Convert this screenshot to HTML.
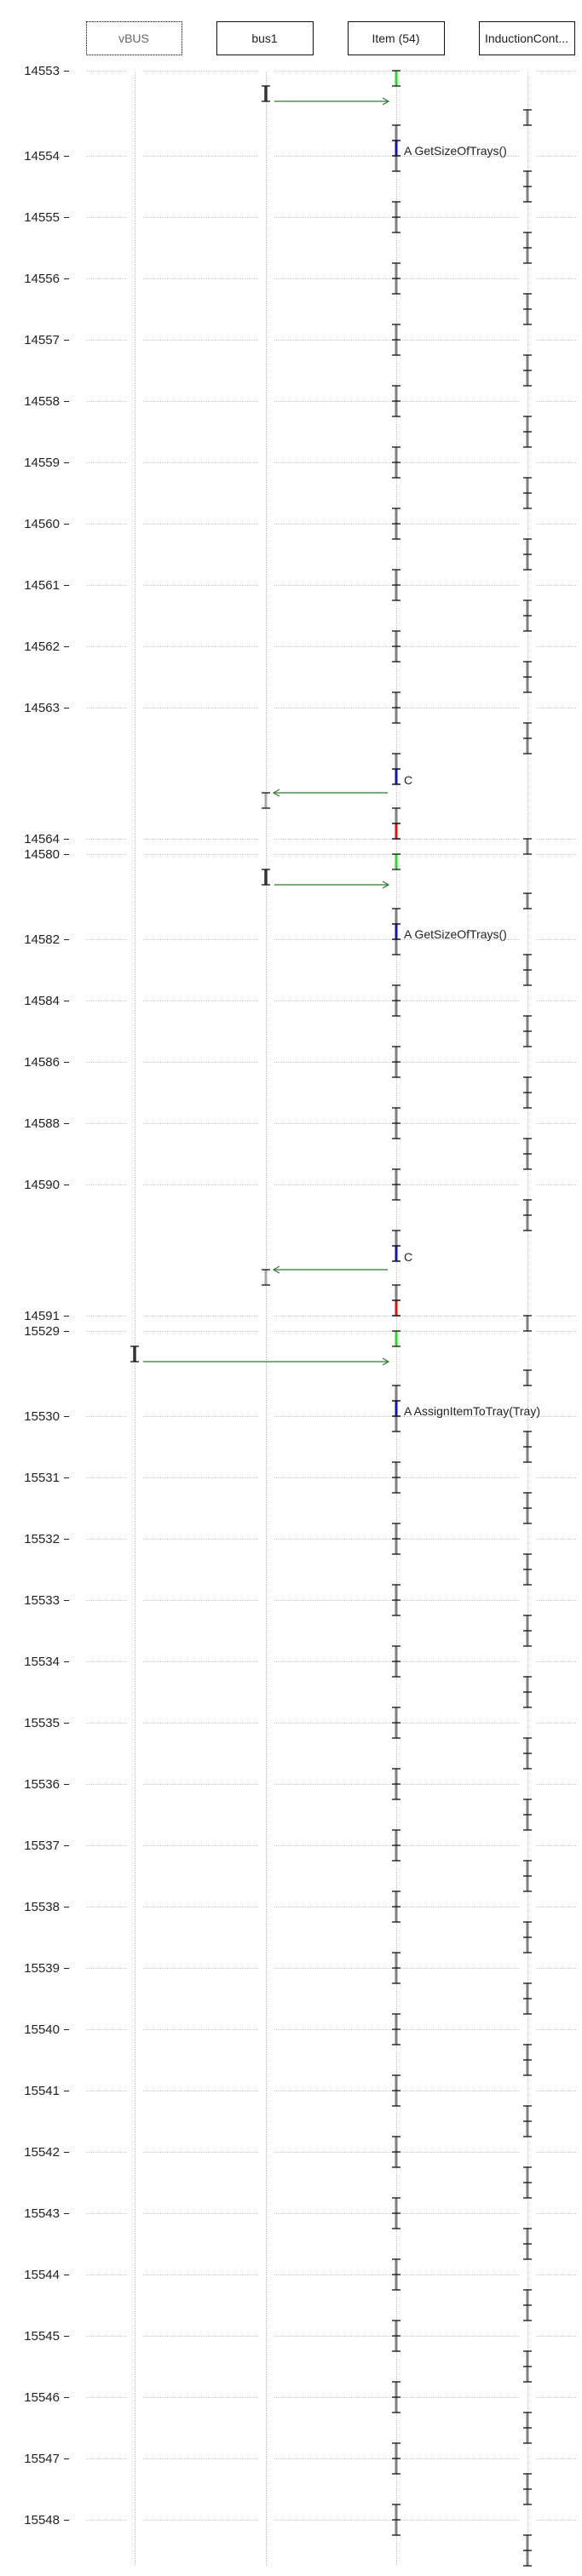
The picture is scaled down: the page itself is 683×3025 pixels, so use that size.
<!DOCTYPE html>
<html><head><meta charset="utf-8"><style>
html,body{margin:0;padding:0;background:#fff;}
svg{display:block;font-family:"Liberation Sans",sans-serif;}
</style></head><body>
<svg id="chart" width="683" height="3025" viewBox="0 0 683 3025" xmlns="http://www.w3.org/2000/svg"></svg>
<script>
// ---- data ----
var lifelineNames = ["vBUS", "bus1", "Item (54)", "InductionCont..."];
var segStartTicks = ["14553", "14580", "15529"];
var segEndTicks = ["14564", "14591", null];
var segCallers = [1, 1, 0];
var segMessages = ["A GetSizeOfTrays()", "A GetSizeOfTrays()", "A AssignItemToTray(Tray)"];
var segTickLabels = [
  ["14554","14555","14556","14557","14558","14559","14560","14561","14562","14563"],
  ["14582","14584","14586","14588","14590"],
  ["15530","15531","15532","15533","15534","15535","15536","15537","15538","15539","15540","15541","15542","15543","15544","15545","15546","15547","15548"]
];
var replyLabel = "C";

// ---- layout ----
var NS = "http://www.w3.org/2000/svg";
var svg = document.getElementById("chart");
var U = 18, TICK_GAP = 72;
var laneX = [158, 312, 465, 619];
var boxX = [[101,213],[254,367],[408,521],[562,674]];
function mk(tag, attrs, parent){
  var e = document.createElementNS(NS, tag);
  for (var k in attrs) e.setAttribute(k, attrs[k]);
  (parent || svg).appendChild(e);
  return e;
}
var gGrid = mk("g", {});


var gLife = mk("g", {});


var gMarks = mk("g", {});



function tick(y, label){
  var t = mk("text", {x: 70, y: y + 5, "text-anchor": "end", "font-size": 15, fill: "#222"});
  t.textContent = label;
  
  
  mk("line", {x1: 75, x2: 81, y1: y + 0.5, y2: y + 0.5, stroke: "#222", "stroke-width": 1});
  var segs = [[101,148],[168,303],[322,610],[629,676]];
  segs.forEach(function(s){
    var l = mk("line", {x1: s[0], x2: s[1], y1: y + 0.5, y2: y + 0.5, stroke: "#c8c8c8", "stroke-width": 1, "stroke-dasharray": "1,1"}, gGrid);
    
  });
}
function bar(lane, y1, y2, color, w){
  var x = laneX[lane];
  var l = mk("line", {x1: x, x2: x, y1: y1, y2: y2, stroke: color, "stroke-width": w || 3}, gMarks);
  
  
}
function caps(lane, y1, y2){
  var x = laneX[lane];
  for (var y = y1; y <= y2 + 0.1; y += U){
    var c = mk("line", {x1: x - 5, x2: x + 5, y1: y, y2: y, stroke: "#111", "stroke-width": 1.3}, gMarks);
    
  }
}
function act(lane, y1, y2, color, w){ bar(lane, y1, y2, color, w); caps(lane, y1, y2); }
function arrow(fromLane, toLane, y){
  var dir = toLane > fromLane ? 1 : -1;
  var xs = laneX[fromLane] + dir * 10, xe = laneX[toLane] - dir * 9;
  var g = mk("g", {}, gMarks);
  
  
  mk("line", {x1: xs, x2: xe, y1: y, y2: y, stroke: "#2e7d2e", "stroke-width": 1.3}, g);
  mk("polyline", {points: (xe - dir*7) + "," + (y - 4) + " " + xe + "," + y + " " + (xe - dir*7) + "," + (y + 4), fill: "none", stroke: "#2e7d2e", "stroke-width": 1.2}, g);
}
function label(text, y){
  var t = mk("text", {x: 474, y: y, "font-size": 14, fill: "#222"});
  t.textContent = text;
  
  
}

// header boxes
lifelineNames.forEach(function(n, i){
  var g = mk("g", {});
  
  
  var r = {x: boxX[i][0] + 0.5, y: 25.5, width: boxX[i][1] - boxX[i][0], height: 39, fill: "#fff", stroke: i === 0 ? "#333" : "#111", "stroke-width": 1};
  if (i === 0) r["stroke-dasharray"] = "2,1";
  mk("rect", r, g);
  var t = mk("text", {x: (boxX[i][0] + boxX[i][1]) / 2, y: 50, "text-anchor": "middle", "font-size": 14, fill: i === 0 ? "#666" : "#222"}, g);
  t.textContent = n;
});

// lifelines
laneX.forEach(function(x){
  var l = mk("line", {x1: x + 0.5, x2: x + 0.5, y1: 84, y2: 3013, stroke: "#c0c0c0", "stroke-width": 1, "stroke-dasharray": "1,1"}, gLife);
  
});

// segments
var S = 83;
for (var s = 0; s < segStartTicks.length; s++){
  tick(S, segStartTicks[s]);
  act(2, S, S + U, "#22dd22");
  act(segCallers[s], S + U, S + 2*U, "#333", 3.5);
  arrow(segCallers[s], 2, S + 2*U);
  act(3, S + 46, S + 64, "#808080");
  var F = S + 100;
  act(2, F - 2*U, F + U, "#808080");
  bar(2, F - U, F, "#1010cc"); caps(2, F - U, F);
  label(segMessages[s], F - 1);
  var ticks = segTickLabels[s];
  var T = F;
  for (var k = 0; k < ticks.length; k++){
    T = F + k * TICK_GAP;
    tick(T, ticks[k]);
    if (k > 0) act(2, T - U, T + U, "#808080");
    act(3, T + U, T + 3*U, "#808080");
  }
  if (segEndTicks[s] !== null){
    act(2, T + 54, T + 90, "#808080");
    bar(2, T + 72, T + 90, "#1010cc"); caps(2, T + 72, T + 90);
    label(replyLabel, T + 90);
    arrow(2, segCallers[s], T + 100);
    act(segCallers[s], T + 100, T + 118, "#aaa");
    act(2, T + 118, T + 154, "#808080");
    bar(2, T + 136, T + 154, "#e01010"); caps(2, T + 136, T + 154);
    tick(T + 154, segEndTicks[s]);
    act(3, T + 154, T + 172, "#808080");
    S = T + 172;
  }
}
</script>
</body></html>
